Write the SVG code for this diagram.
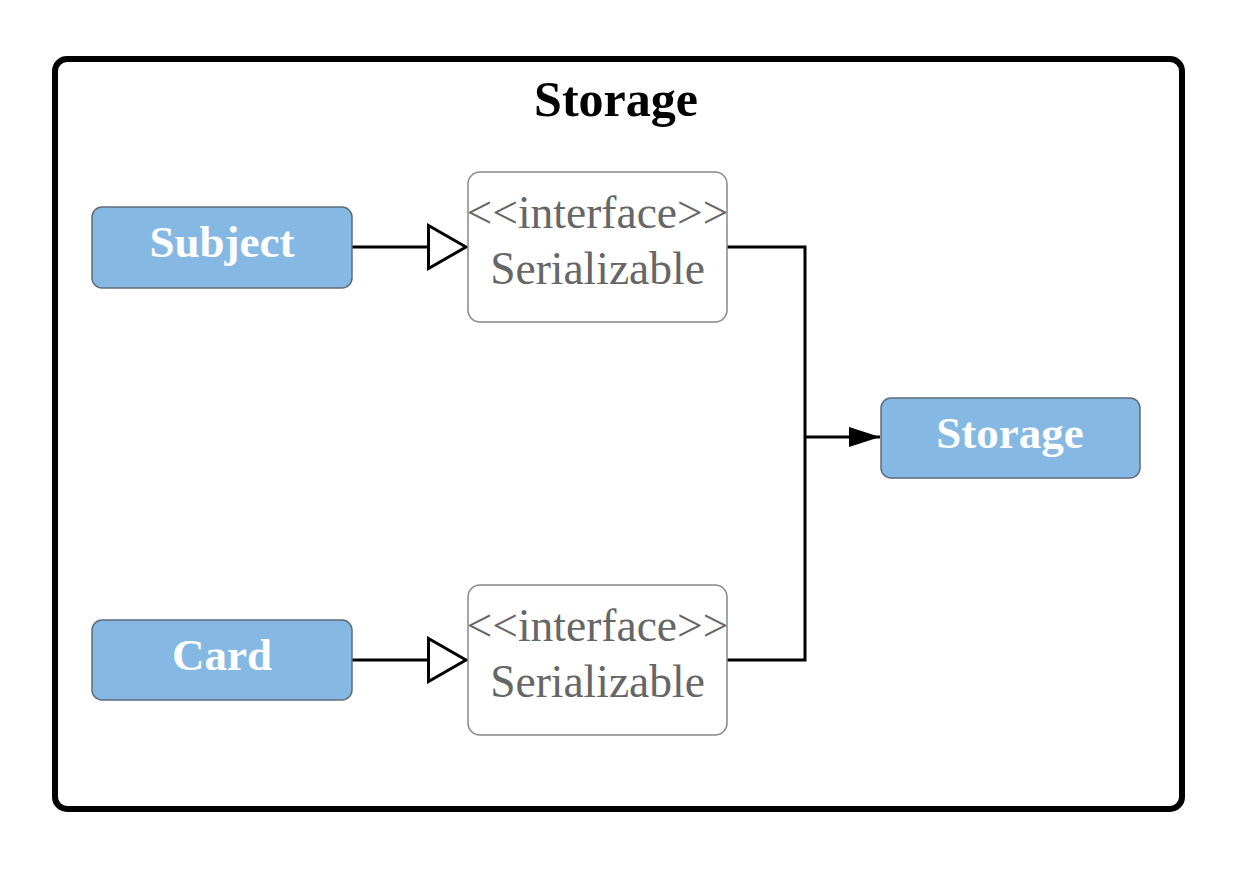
<svg xmlns="http://www.w3.org/2000/svg" width="1247" height="874" viewBox="0 0 1247 874">
<style>
.cls rect{fill:#85b9e4;stroke:#5f6b7a;stroke-width:1.5}
.cls text{font-family:"Liberation Serif",serif;font-weight:bold;font-size:45px;fill:#ffffff;text-anchor:middle}
.itf rect{fill:#ffffff;stroke:#888888;stroke-width:1.5}
.itf text{font-family:"Liberation Serif",serif;font-size:45.5px;fill:#666666;text-anchor:middle}
.conn{fill:none;stroke:#000;stroke-width:3}
</style>
<defs>
<marker id="hollow" markerUnits="userSpaceOnUse" markerWidth="42" markerHeight="48" refX="39" refY="23" orient="auto" viewBox="0 0 42 46">
<path d="M1.5,1.5 L39,23 L1.5,44.5 Z" fill="#fff" stroke="#000" stroke-width="3"/>
</marker>
<marker id="filled" markerUnits="userSpaceOnUse" markerWidth="32" markerHeight="22" refX="31" refY="10.5" orient="auto" viewBox="0 0 32 21">
<path d="M0,0.5 L31,10.5 L0,20.5 Z" fill="#000"/>
</marker>
</defs>
<rect width="1247" height="874" fill="#ffffff"/>
<g id="frame">
<rect x="55" y="59" width="1127" height="750" rx="12" fill="#ffffff" stroke="#000" stroke-width="6"/>
<text x="616" y="116" font-family="Liberation Serif,serif" font-weight="bold" font-size="50" text-anchor="middle" fill="#000">Storage</text>
</g>
<g id="connectors">
<line class="conn" x1="352" y1="247" x2="466" y2="247" marker-end="url(#hollow)"/>
<line class="conn" x1="352" y1="660" x2="466" y2="660" marker-end="url(#hollow)"/>
<polyline class="conn" points="727,247 805,247 805,660 727,660"/>
<line class="conn" x1="805" y1="437" x2="880" y2="437" marker-end="url(#filled)"/>
</g>
<g id="subject" class="cls">
<rect x="92" y="207" width="260" height="81" rx="10"/>
<text x="222" y="257">Subject</text>
</g>
<g id="card" class="cls">
<rect x="92" y="620" width="260" height="80" rx="10"/>
<text x="222" y="670">Card</text>
</g>
<g id="storage" class="cls">
<rect x="881" y="398" width="259" height="80" rx="10"/>
<text x="1010" y="448">Storage</text>
</g>
<g id="serializable1" class="itf">
<rect x="468" y="172" width="259" height="150" rx="12"/>
<text x="597.5" y="228">&lt;&lt;interface&gt;&gt;</text>
<text x="597.5" y="284">Serializable</text>
</g>
<g id="serializable2" class="itf">
<rect x="468" y="585" width="259" height="150" rx="12"/>
<text x="597.5" y="641">&lt;&lt;interface&gt;&gt;</text>
<text x="597.5" y="697">Serializable</text>
</g>
</svg>
